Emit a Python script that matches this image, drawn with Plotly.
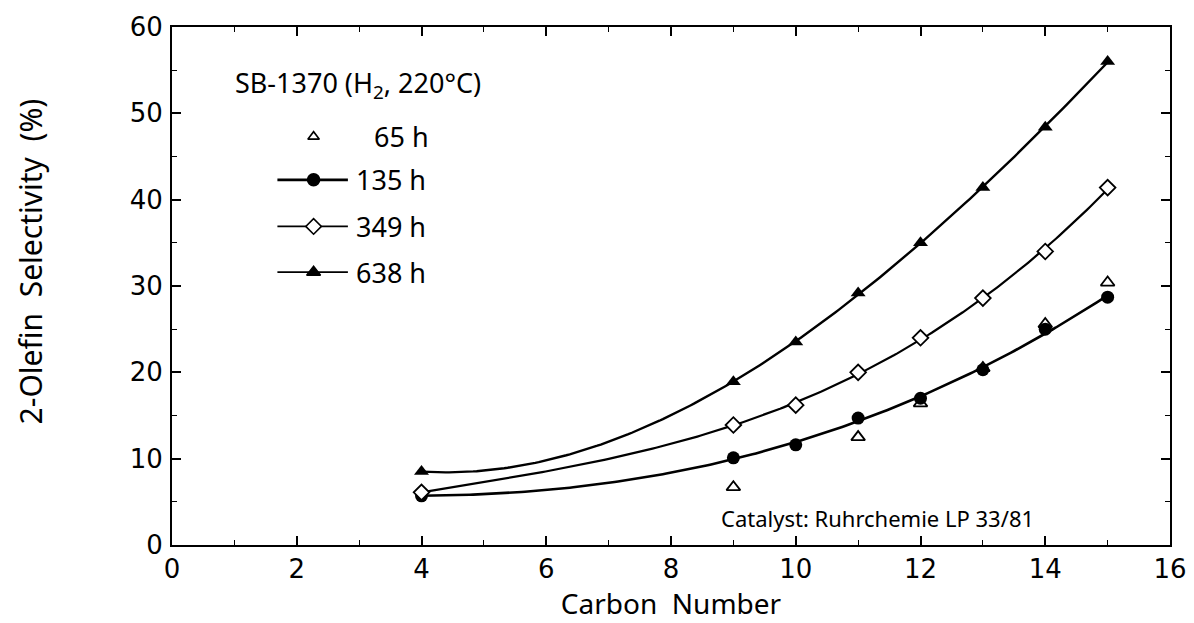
import numpy as np
import plotly.graph_objects as go

# Carbon number of the 2-olefin fraction
carbon_638 = [4, 9, 10, 11, 12, 13, 14, 15]
sel_638 = [8.5, 18.9, 23.5, 29.2, 35.0, 41.4, 48.4, 56.0]

carbon_349 = [4, 9, 10, 11, 12, 13, 14, 15]
sel_349 = [6.1, 13.9, 16.2, 20.0, 24.0, 28.6, 34.0, 41.4]

carbon_135 = [4, 9, 10, 11, 12, 13, 14, 15]
sel_135 = [5.7, 10.1, 11.6, 14.7, 17.0, 20.3, 25.0, 28.7]

carbon_65 = [9, 11, 12, 13, 14, 15]
sel_65 = [6.7, 12.5, 16.4, 20.5, 25.6, 30.4]

x_ticks = [0, 2, 4, 6, 8, 10, 12, 14, 16]
y_ticks = [0, 10, 20, 30, 40, 50, 60]

FONT = "Noto Sans"
TICK_FONT = "DejaVu Sans"
BLACK = "black"


def trend(xs, ys, deg=3, n=200):
    """Smooth least-squares trend curve through a measured series."""
    coef = np.polyfit(xs, ys, deg)
    xf = np.linspace(min(xs), max(xs), n)
    return xf, np.polyval(coef, xf)


fig = go.Figure()

series = [
    (carbon_135, sel_135, 2.6, dict(symbol="circle", size=13, color=BLACK)),
    (carbon_349, sel_349, 2.2, dict(symbol="diamond", size=12, color="white",
                                    line=dict(color=BLACK, width=1.8))),
    (carbon_638, sel_638, 2.4, dict(symbol="triangle-up", size=13, color=BLACK)),
]
for xs, ys, lw, mk in series:
    xf, yf = trend(xs, ys)
    fig.add_trace(go.Scatter(x=xf, y=yf, mode="lines",
                             line=dict(color=BLACK, width=lw),
                             showlegend=False, hoverinfo="skip"))
for xs, ys, lw, mk in series:
    fig.add_trace(go.Scatter(x=xs, y=ys, mode="markers", marker=mk, showlegend=False))

fig.add_trace(go.Scatter(
    x=carbon_65, y=sel_65, mode="markers",
    marker=dict(symbol="triangle-up", size=12, color="rgba(255,255,255,0)",
                line=dict(color=BLACK, width=1.8)),
    showlegend=False))

# hand-placed key (data coordinates)
key_x0, key_x1, key_xm, key_text_x = 1.69, 2.82, 2.27, 2.92
key_rows = [
    ("65 h", 47.3, "triangle-up", "rgba(255,255,255,0)", False),
    ("135 h", 42.3, "circle", BLACK, True),
    ("349 h", 36.9, "diamond", "white", True),
    ("638 h", 31.6, "triangle-up", BLACK, True),
]
for label, ky, sym, fill, with_line in key_rows:
    if with_line:
        fig.add_trace(go.Scatter(
            x=[key_x0, key_x1], y=[ky, ky], mode="lines",
            line=dict(color=BLACK, width=2.8 if label == "135 h" else 1.8),
            showlegend=False, hoverinfo="skip"))
    fig.add_trace(go.Scatter(
        x=[key_xm], y=[ky], mode="markers",
        marker=dict(symbol=sym, size=12 if sym != "triangle-up" or fill == BLACK else 10,
                    color=fill, line=dict(color=BLACK, width=1.6)),
        showlegend=False, hoverinfo="skip"))
    fig.add_annotation(x=key_text_x if label != "65 h" else 3.2,
                       y=ky, text=label, showarrow=False, xanchor="left",
                       font=dict(family=FONT, size=27, color=BLACK))

fig.add_annotation(x=0.98, y=53.3, text="SB-1370 (H<sub>2</sub>, 220°C)", showarrow=False,
                   xanchor="left", font=dict(family=FONT, size=27, color=BLACK))
fig.add_annotation(x=13.85, y=3.1, text="Catalyst: Ruhrchemie LP 33/81", showarrow=False,
                   xanchor="right", font=dict(family=FONT, size=22, color=BLACK))

# y-axis title
fig.add_annotation(xref="paper", yref="paper", x=-0.142, y=0.548,
                   text="2-Olefin  Selectivity  (%)", textangle=-90, showarrow=False,
                   xanchor="center", yanchor="middle",
                   font=dict(family=FONT, size=30, color=BLACK))

axis_common = dict(
    showgrid=False, zeroline=False, showline=True, linecolor=BLACK, linewidth=2,
    mirror="ticks", ticks="inside", ticklen=9, tickwidth=1.5, tickcolor=BLACK,
    tickfont=dict(family=TICK_FONT, size=26, color=BLACK), automargin=False,
)

fig.update_xaxes(
    range=[0, 16], tickvals=x_ticks,
    minor=dict(dtick=1, ticks="inside", ticklen=5, tickcolor=BLACK, tickwidth=1.2),
    title=dict(text="Carbon  Number", font=dict(family=FONT, size=28, color=BLACK), standoff=8),
    **axis_common)
fig.update_yaxes(
    range=[0, 60], tickvals=y_ticks, ticklabelstandoff=2,
    minor=dict(dtick=5, ticks="inside", ticklen=5, tickcolor=BLACK, tickwidth=1.2),
    **axis_common)

fig.update_layout(
    width=1194, height=623,
    margin=dict(l=172, r=24, t=27, b=78),
    paper_bgcolor="white", plot_bgcolor="white",
    showlegend=False,
)

fig.write_html("out.html")
